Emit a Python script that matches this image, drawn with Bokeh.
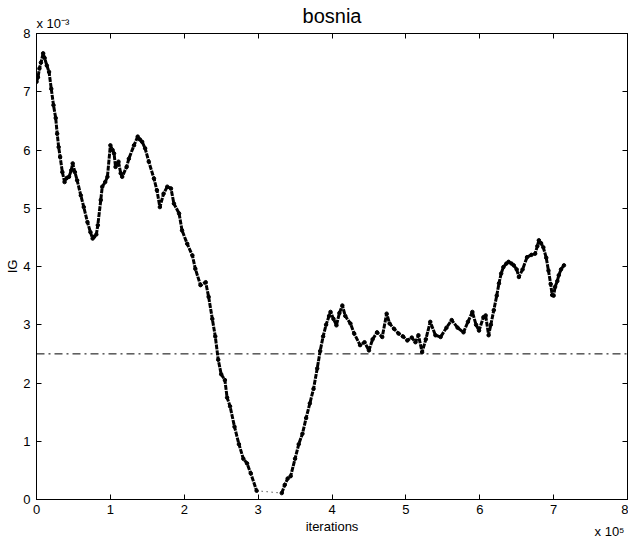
from bokeh.plotting import figure
from bokeh.models import (Range1d, LinearAxis, FixedTicker, Span, Title,
                          ColumnDataSource, CustomLabelingPolicy)
from bokeh.embed import file_html
from bokeh.resources import INLINE

# iterations in units of 1e5, IG in units of 1e-3
iter_a = [0.00, 0.02, 0.04, 0.06, 0.09, 0.11, 0.14, 0.17, 0.20, 0.23, 0.26, 0.28, 0.30, 0.32,
          0.35, 0.38, 0.41, 0.44, 0.47, 0.49, 0.52, 0.55, 0.60, 0.64, 0.69, 0.73, 0.76, 0.78,
          0.81, 0.83, 0.87, 0.89, 0.93, 0.96, 1.00, 1.03, 1.05, 1.07, 1.11, 1.14, 1.16, 1.22,
          1.25, 1.32, 1.37, 1.40, 1.43, 1.47, 1.52, 1.59, 1.63, 1.67, 1.72, 1.77, 1.82, 1.86,
          1.93, 1.97, 2.04, 2.11, 2.15, 2.22, 2.29, 2.33, 2.38, 2.42, 2.46, 2.50, 2.55, 2.58,
          2.62, 2.68, 2.74, 2.80, 2.85, 2.90, 2.98]
ig_a = [7.17, 7.25, 7.40, 7.50, 7.66, 7.58, 7.45, 7.34, 7.05, 6.77, 6.55, 6.28, 6.05, 5.88,
        5.62, 5.45, 5.52, 5.54, 5.65, 5.77, 5.62, 5.48, 5.22, 5.02, 4.76, 4.59, 4.48, 4.51,
        4.55, 4.71, 5.14, 5.37, 5.45, 5.54, 6.08, 6.00, 5.94, 5.71, 5.80, 5.60, 5.54, 5.71,
        5.85, 6.08, 6.23, 6.18, 6.14, 6.03, 5.80, 5.51, 5.31, 5.02, 5.25, 5.37, 5.34, 5.08,
        4.91, 4.62, 4.39, 4.19, 3.96, 3.68, 3.73, 3.48, 3.10, 2.80, 2.40, 2.15, 2.05, 1.75,
        1.60, 1.25, 0.95, 0.70, 0.62, 0.45, 0.15]

iter_b = [3.32, 3.36, 3.40, 3.44, 3.50, 3.55, 3.60, 3.65, 3.70, 3.75, 3.80, 3.84, 3.88, 3.92,
          3.96, 3.98, 4.02, 4.06, 4.10, 4.14, 4.18, 4.25, 4.30, 4.38, 4.44, 4.50, 4.55, 4.61,
          4.68, 4.74, 4.78, 4.84, 4.90, 4.96, 5.02, 5.08, 5.13, 5.17, 5.22, 5.27, 5.33, 5.40,
          5.47, 5.55, 5.62, 5.70, 5.78, 5.84, 5.90, 5.95, 5.99, 6.05, 6.08, 6.12, 6.15, 6.19,
          6.23, 6.26, 6.29, 6.32, 6.36, 6.39, 6.43, 6.46, 6.50, 6.53, 6.58, 6.64, 6.70, 6.75,
          6.78, 6.80, 6.83, 6.86, 6.90, 6.93, 6.96, 6.98, 7.00, 7.02, 7.05, 7.07, 7.10, 7.14]
ig_b = [0.11, 0.25, 0.36, 0.40, 0.70, 0.95, 1.13, 1.40, 1.65, 1.90, 2.25, 2.55, 2.80, 3.00,
        3.15, 3.22, 3.10, 2.99, 3.20, 3.33, 3.15, 3.02, 2.85, 2.65, 2.70, 2.56, 2.75, 2.87,
        2.79, 3.19, 3.02, 2.93, 2.85, 2.80, 2.73, 2.78, 2.70, 2.82, 2.53, 2.75, 3.05, 2.82,
        2.79, 2.95, 3.08, 2.95, 2.87, 3.05, 3.22, 3.00, 2.90, 3.13, 3.16, 2.82, 3.00, 3.25,
        3.50, 3.71, 3.88, 3.99, 4.05, 4.08, 4.05, 4.02, 3.95, 3.82, 3.95, 4.16, 4.20, 4.22,
        4.35, 4.45, 4.40, 4.33, 4.15, 3.93, 3.70, 3.51, 3.50, 3.65, 3.75, 3.85, 3.95, 4.02]

threshold = 2.5
ticks = [0, 1, 2, 3, 4, 5, 6, 7, 8]
title_text = "bosnia"
x_label = "iterations"
y_label = "IG"
y_exponent = "x 10\u207b\u00b3"
x_exponent = "x 10\u2075"

FONT = "Liberation Sans"

p = figure(frame_width=591, frame_height=466,
           x_range=Range1d(0, 8), y_range=Range1d(0, 8),
           output_backend="svg", toolbar_location=None, title=title_text,
           min_border_left=36, min_border_right=1, min_border_top=33, min_border_bottom=41,
           background_fill_color="white", border_fill_color="white")
p.title.text_font = FONT
p.title.text_font_size = "20px"
p.title.text_font_style = "normal"
p.title.text_color = "black"
p.title.align = "center"
p.title.vertical_align = "bottom"
p.title.standoff = -22

p.xgrid.visible = False
p.ygrid.visible = False
p.outline_line_color = "black"
p.outline_line_width = 1

for ax in (p.xaxis[0], p.yaxis[0]):
    ax.ticker = FixedTicker(ticks=ticks)
    ax.major_tick_in = 5
    ax.major_tick_out = 0
    ax.minor_tick_line_color = None
    ax.axis_line_color = "black"
    ax.major_tick_line_color = "black"
    ax.major_label_text_font = FONT
    ax.major_label_text_font_size = "13px"
    ax.major_label_text_color = "black"
    ax.axis_label_text_font = FONT
    ax.axis_label_text_font_size = "13px"
    ax.axis_label_text_font_style = "normal"
    ax.axis_label_text_color = "black"
    ax.axis_label_standoff = 0
    ax.major_label_standoff = 5

p.xaxis[0].axis_label = x_label
p.xaxis[0].axis_label_standoff = 2
p.yaxis[0].axis_label = y_label
p.yaxis[0].major_label_standoff = 6

no_labels = CustomLabelingPolicy(code="""
const ids = [];
for (const i of indices) ids.push(i);
for (const i of ids) indices.unset(i);
return indices;
""")

top_axis = LinearAxis(ticker=FixedTicker(ticks=ticks), major_tick_in=5, major_tick_out=0,
                      minor_tick_line_color=None, major_label_text_font_size="0px",
                      major_label_standoff=0, axis_line_color="black",
                      major_tick_line_color="black", major_label_policy=no_labels)
right_axis = LinearAxis(ticker=FixedTicker(ticks=ticks), major_tick_in=5, major_tick_out=0,
                        minor_tick_line_color=None, major_label_text_font_size="0px",
                        major_label_standoff=0, axis_line_color="black",
                        major_tick_line_color="black", major_label_policy=no_labels)
p.add_layout(top_axis, "above")
p.add_layout(right_axis, "right")

# exponent labels as titles in the side panels
p.add_layout(Title(text=y_exponent, align="left", vertical_align="top", standoff=1,
                   text_font=FONT, text_font_size="13px", text_font_style="normal",
                   text_color="black"), "above")
p.add_layout(Title(text=x_exponent, align="right", vertical_align="top", standoff=-26,
                   offset=3, text_font=FONT, text_font_size="13px",
                   text_font_style="normal", text_color="black"), "below")

p.add_layout(Span(location=threshold, dimension="width", line_color="black",
                  line_width=1, line_dash="8 4 2 4"))

src_a = ColumnDataSource(dict(x=iter_a, y=ig_a))
src_b = ColumnDataSource(dict(x=iter_b, y=ig_b))
for src in (src_a, src_b):
    p.line("x", "y", source=src, line_color="black", line_width=3, line_dash="5 1")
    p.scatter("x", "y", source=src, size=3.5, color="black")

p.line([iter_a[-1], iter_b[0]], [ig_a[-1], ig_b[0]], line_color="black",
       line_width=1, line_dash="1 4")

open("out.html", "w").write(file_html(p, INLINE))
